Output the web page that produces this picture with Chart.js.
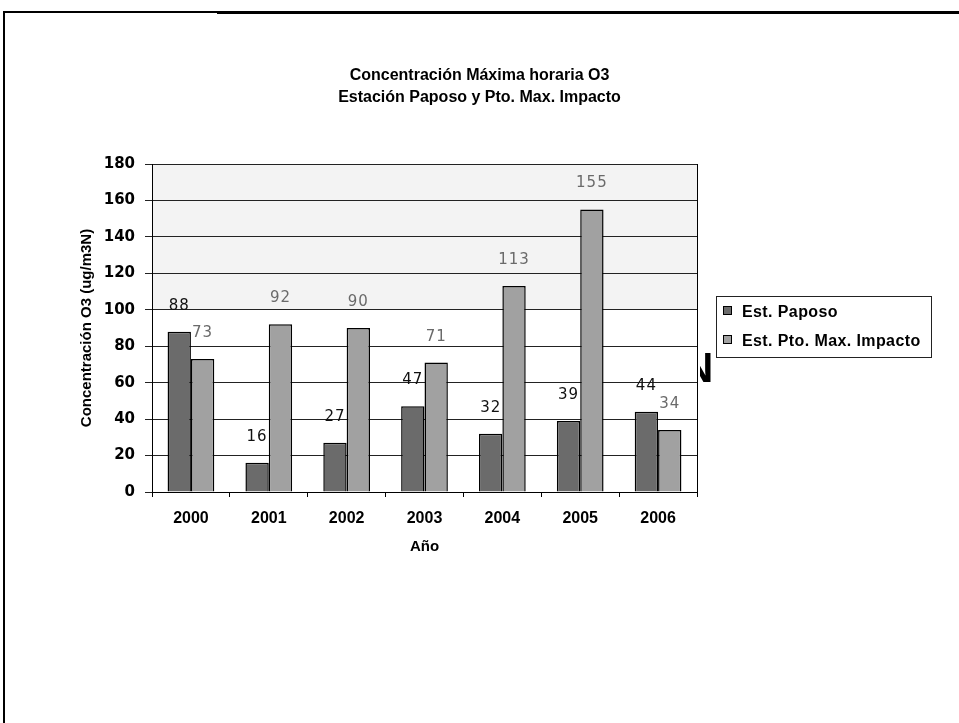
<!DOCTYPE html>
<html>
<head>
<meta charset="utf-8">
<script src="https://cdn.jsdelivr.net/npm/chart.js@4.4.0/dist/chart.umd.min.js"></script>
<style>
body { margin: 0; background: #fff; }
#wrap { position: relative; width: 959px; height: 723px; overflow: hidden; }
#c { position: absolute; left: 0; top: 0; }
.line { position: absolute; background: #000; }
#legend { position: absolute; left: 716px; top: 296px; width: 214px; height: 60px; border: 1px solid #222;
  font: bold 16px "Liberation Sans", Arial, sans-serif; letter-spacing: 0.4px; color: #000; }
#legend .row { position: absolute; left: 6px; height: 18px; line-height: 18px; white-space: nowrap; }
#legend .box { display: inline-block; width: 7px; height: 7px; border: 1px solid #000; margin-right: 10px; vertical-align: 2px; }
#nclip { position: absolute; left: 700px; top: 350px; width: 13px; height: 36px; overflow: hidden; }
#nclip span { position: absolute; left: -17px; top: -6px; font: bold 42px "Liberation Sans", Arial, sans-serif; color: #000; }
</style>
</head>
<body>
<div id="wrap">
  <canvas id="c" width="959" height="723"></canvas>
  <div class="line" style="left:3px;top:11px;width:214px;height:2px;"></div>
  <div class="line" style="left:217px;top:11px;width:742px;height:3px;"></div>
  <div class="line" style="left:3px;top:11px;width:2px;height:712px;"></div>
  <div id="legend"></div>
  <div id="nclip"><span>N</span></div>
</div>
<script>
// data
var years = ["2000", "2001", "2002", "2003", "2004", "2005", "2006"];
var paposo = [88, 16, 27, 47, 32, 39, 44];
var impacto = [73, 92, 90, 71, 113, 155, 34];
var seriesNames = ["Est. Paposo", "Est. Pto. Max. Impacto"];
var chartTitle = ["Concentración Máxima horaria O3", "Estación Paposo y Pto. Max. Impacto"];
var yTitle = "Concentración O3 (ug/m3N)";
var xTitle = "Año";

var barColors = ['#6b6b6b', '#a1a1a1'];
var labelColors = ['#111', '#6a6a6a'];

Chart.defaults.font.family = '"Liberation Sans", Arial, sans-serif';
Chart.defaults.color = '#000';

// faint speckled band in the upper part of the plot
var band = {
    id: 'band',
    beforeDraw: function (chart) {
        var a = chart.chartArea, y = chart.scales.y, ctx = chart.ctx;
        ctx.save();
        ctx.fillStyle = '#f3f3f3';
        ctx.fillRect(a.left, y.getPixelForValue(180), a.right - a.left, y.getPixelForValue(100) - y.getPixelForValue(180));
        ctx.restore();
    }
};

// value above every bar
var valueLabels = {
    id: 'valueLabels',
    afterDatasetsDraw: function (chart) {
        var ctx = chart.ctx;
        ctx.save();
        ctx.font = '15px "DejaVu Sans", sans-serif';
        ctx.letterSpacing = '1px';
        ctx.textAlign = 'center';
        ctx.textBaseline = 'middle';
        chart.data.datasets.forEach(function (ds, i) {
            ctx.fillStyle = labelColors[i];
            chart.getDatasetMeta(i).data.forEach(function (bar, j) {
                ctx.fillText(ds.data[j], bar.x, bar.y - 26);
            });
        });
        ctx.restore();
    }
};

// right edge of the plot box
var plotBox = {
    id: 'plotBox',
    afterDraw: function (chart) {
        var a = chart.chartArea, ctx = chart.ctx;
        ctx.save();
        ctx.strokeStyle = '#000';
        ctx.lineWidth = 1;
        ctx.beginPath();
        ctx.moveTo(Math.round(a.right) + 0.5, a.top);
        ctx.lineTo(Math.round(a.right) + 0.5, a.bottom);
        ctx.stroke();
        ctx.restore();
    }
};

var chart = new Chart(document.getElementById('c').getContext('2d'), {
    type: 'bar',
    data: {
        labels: years,
        datasets: [{
            label: seriesNames[0],
            data: paposo,
            backgroundColor: barColors[0],
            borderColor: '#000',
            borderWidth: 1.5
        }, {
            label: seriesNames[1],
            data: impacto,
            backgroundColor: barColors[1],
            borderColor: '#000',
            borderWidth: 1.5
        }]
    },
    options: {
        responsive: false,
        animation: false,
        categoryPercentage: 0.6,
        barPercentage: 1.0,
        layout: { padding: { top: 0, bottom: 161, left: 0, right: 0 } },
        plugins: {
            legend: { display: false },
            tooltip: { enabled: false },
            title: {
                display: true,
                text: chartTitle,
                color: '#000',
                font: { size: 16, weight: 'bold', lineHeight: '22px' },
                padding: { top: 65, bottom: 55 }
            }
        },
        scales: {
            x: {
                grid: { drawOnChartArea: false, drawTicks: true, tickLength: 5, color: '#000', offset: true },
                border: { display: true, color: '#000', width: 1 },
                ticks: { color: '#000', font: { size: 16, weight: 'bold' }, padding: 12 },
                title: { display: true, text: xTitle, color: '#000', font: { size: 15, weight: 'bold' }, padding: { top: 0, bottom: 6 } },
                afterFit: function (s) { s.height = 70; }
            },
            y: {
                min: 0,
                max: 180,
                ticks: { stepSize: 20, color: '#000', font: { family: '"DejaVu Sans", Verdana, sans-serif', size: 15, weight: 'bold' }, padding: 10 },
                grid: { color: '#222', tickLength: 7, drawTicks: true },
                border: { display: true, color: '#000', width: 1 },
                title: { display: true, text: yTitle, color: '#000', font: { size: 15, weight: 'bold' }, padding: { top: 78, bottom: 0 } },
                afterFit: function (s) { s.width = 152; }
            },
            y2: {
                position: 'right',
                grid: { display: false },
                border: { display: false },
                ticks: { display: false },
                afterFit: function (s) { s.width = 262; }
            }
        }
    },
    plugins: [band, valueLabels, plotBox]
});

// legend box at the right
var legend = document.getElementById('legend');
seriesNames.forEach(function (name, i) {
    var row = document.createElement('div');
    row.className = 'row';
    row.style.top = (6 + i * 29) + 'px';
    row.innerHTML = '<span class="box" style="background:' + barColors[i] + '"></span>' + name;
    legend.appendChild(row);
});
</script>
</body>
</html>
